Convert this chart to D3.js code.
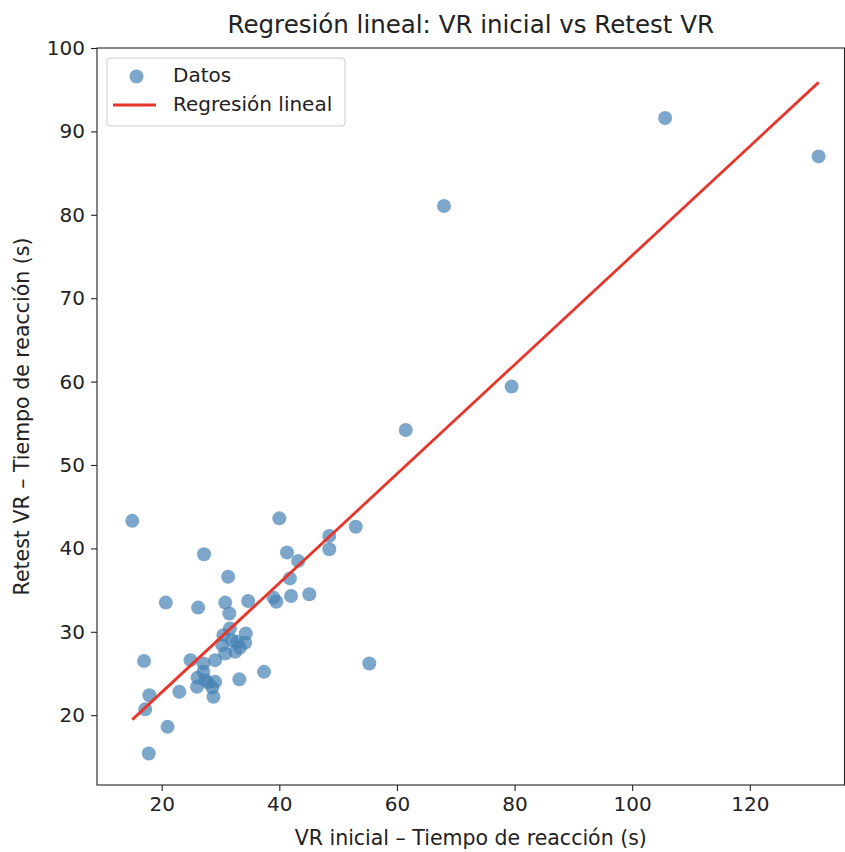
<!DOCTYPE html>
<html>
<head>
<meta charset="utf-8">
<script src="https://cdn.jsdelivr.net/npm/d3@7"></script>
<style>
  body { margin: 0; background: #fff; }
  svg text { font-family: "DejaVu Sans", sans-serif; fill: #222; }
</style>
</head>
<body>
<svg id="chart" width="845" height="852"></svg>
<script>
// Data
// ----
var vrInicial = [15.0, 17.0, 17.9, 17.2, 17.8, 20.7, 21.0, 23.0, 24.9, 26.2,
  27.2, 30.8, 31.3, 31.5, 34.7, 39.0, 39.5, 40.0, 41.3, 43.2,
  41.8, 42.0, 45.1, 48.5, 48.5, 53.0, 55.3, 61.5, 68.0, 79.5,
  105.6, 131.7, 37.4, 33.2, 31.6, 30.5, 34.3, 31.9, 32.8, 34.2,
  30.3, 30.8, 32.5, 29.1, 27.1, 27.1, 26.1, 27.4, 26.0, 27.9,
  29.1, 28.6, 28.8, 33.3];
var retestVR = [43.3, 26.5, 22.4, 20.7, 15.4, 33.5, 18.6, 22.8, 26.6, 32.9,
  39.3, 33.5, 36.6, 32.2, 33.7, 34.1, 33.6, 43.6, 39.5, 38.5,
  36.4, 34.3, 34.5, 41.5, 39.9, 42.6, 26.2, 54.2, 81.05, 59.4,
  91.6, 87.0, 25.2, 24.3, 30.4, 29.6, 29.8, 29.0, 28.8, 28.7,
  28.4, 27.4, 27.6, 26.6, 26.2, 25.2, 24.5, 24.2, 23.4, 23.9,
  24.0, 23.3, 22.2, 28.1];
var xTicks = [20, 40, 60, 80, 100, 120];
var yTicks = [20, 30, 40, 50, 60, 70, 80, 90, 100];

var points = vrInicial.map(function(x, i) { return {x: x, y: retestVR[i]}; });

// Least squares fit
// -----------------
var mx = d3.mean(vrInicial), my = d3.mean(retestVR);
var sxy = d3.sum(points, function(d) { return (d.x - mx) * (d.y - my); });
var sxx = d3.sum(points, function(d) { return (d.x - mx) * (d.x - mx); });
var slope = sxy / sxx, intercept = my - slope * mx;
var fitLine = d3.extent(vrInicial).map(function(x) { return {x: x, y: intercept + slope * x}; });

// Layout
// ------
var svg = d3.select("#chart");
var plotL = 97, plotR = 844.5, plotT = 48, plotB = 785;

var xScale = d3.scaleLinear().domain([9.0, 136.1]).range([plotL, plotR]);
var yScale = d3.scaleLinear().domain([11.63, 100]).range([plotB, plotT]);

// Points
// ------
svg.append("g").selectAll("circle")
  .data(points)
  .enter()
  .append("circle")
  .attr("cx", function(d) { return xScale(d.x); })
  .attr("cy", function(d) { return yScale(d.y); })
  .attr("r", 7)
  .attr("fill", "steelblue")
  .attr("fill-opacity", 0.7);

// Regression line
// ---------------
svg.append("path")
  .datum(fitLine)
  .attr("d", d3.line().x(function(d) { return xScale(d.x); }).y(function(d) { return yScale(d.y); }))
  .attr("stroke", "#e8352a")
  .attr("stroke-width", 2.8)
  .attr("fill", "none");

// Axes
// ----
var xAxis = svg.append("g")
  .attr("transform", "translate(0," + plotB + ")")
  .call(d3.axisBottom(xScale).tickValues(xTicks).tickSize(6).tickPadding(6));
var yAxis = svg.append("g")
  .attr("transform", "translate(" + plotL + ",0)")
  .call(d3.axisLeft(yScale).tickValues(yTicks).tickSize(6).tickPadding(6));

[xAxis, yAxis].forEach(function(ax) {
  ax.select(".domain").remove();
  ax.selectAll("line").attr("stroke", "#222").attr("stroke-width", 1.1);
  ax.selectAll("text").attr("font-size", 20).attr("fill", "#222")
    .style("font-family", "DejaVu Sans, sans-serif");
});

svg.append("rect")
  .attr("x", plotL).attr("y", plotT)
  .attr("width", plotR - plotL).attr("height", plotB - plotT)
  .attr("fill", "none").attr("stroke", "#222").attr("stroke-width", 1.1);

// Labels
// ------
svg.append("text")
  .attr("x", (plotL + plotR) / 2).attr("y", 33)
  .attr("text-anchor", "middle").attr("font-size", 24.5)
  .text("Regresión lineal: VR inicial vs Retest VR");

svg.append("text")
  .attr("x", (plotL + plotR) / 2).attr("y", 845)
  .attr("text-anchor", "middle").attr("font-size", 20.5)
  .text("VR inicial – Tiempo de reacción (s)");

svg.append("text")
  .attr("transform", "translate(29," + (plotT + plotB) / 2 + ") rotate(-90)")
  .attr("text-anchor", "middle").attr("font-size", 20.5)
  .text("Retest VR – Tiempo de reacción (s)");

// Legend
// ------
var legend = svg.append("g");
legend.append("rect")
  .attr("x", 107).attr("y", 58).attr("width", 238).attr("height", 68)
  .attr("rx", 3).attr("fill", "#fff").attr("fill-opacity", 0.8)
  .attr("stroke", "#ccc").attr("stroke-width", 1);
legend.append("circle")
  .attr("cx", 136.5).attr("cy", 76.5).attr("r", 7)
  .attr("fill", "steelblue").attr("fill-opacity", 0.7);
legend.append("line")
  .attr("x1", 113).attr("x2", 156).attr("y1", 105).attr("y2", 105)
  .attr("stroke", "#e8352a").attr("stroke-width", 2.8);
legend.append("text").attr("x", 173).attr("y", 82).attr("font-size", 20).text("Datos");
legend.append("text").attr("x", 173).attr("y", 111).attr("font-size", 20).text("Regresión lineal");
</script>
</body>
</html>
